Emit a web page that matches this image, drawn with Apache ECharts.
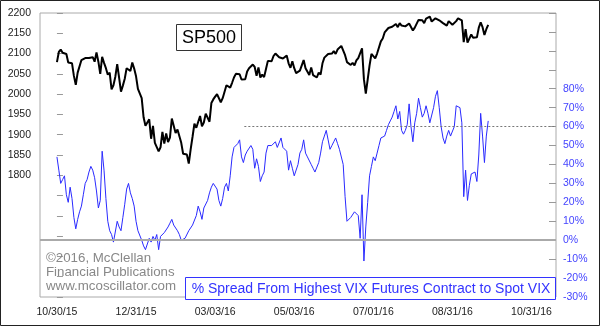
<!DOCTYPE html>
<html>
<head>
<meta charset="utf-8">
<script src="https://cdn.jsdelivr.net/npm/echarts@6/dist/echarts.min.js"></script>
<style>
html,body{margin:0;padding:0;background:#fff;}
#chart{width:600px;height:326px;}
</style>
</head>
<body>
<div id="chart"></div>
<script>
// x tick labels (trading-day index of each label)
const xLabels = ['10/30/15','12/31/15','03/03/16','05/03/16','07/01/16','08/31/16','10/31/16'];
const xLabelIdx = [0, 42, 84, 126, 168, 210, 252];

// S&P 500 daily closes (left axis), trading days from 10/30/15
const spx = [
2079,2104,2110,2102,2100,2099,2078,2081,2076,2045,
2023,2053,2051,2084,2082,2089,2087,2089,2089,2091,
2080,2103,2080,2050,2092,2077,2064,2048,2053,2012,
2022,2043,2074,2041,2006,2021,2038,2064,2061,2057,
2078,2063,2044,2013,2016,1990,1943,1922,1924,1938,
1890,1922,1880,1881,1859,1869,1907,1878,1903,1882,
1893,1940,1940,1904,1913,1915,1880,1853,1852,1851,
1829,1864,1895,1927,1917,1918,1946,1921,1930,1952,
1948,1932,1978,1987,1994,2000,2002,1980,1990,1989,
2022,2020,2016,2028,2041,2050,2051,2049,2036,2036,
2037,2056,2064,2060,2073,2067,2045,2066,2041,2048,
2042,2062,2082,2082,2081,2094,2100,2102,2091,2092,
2088,2091,2095,2076,2065,2081,2064,2052,2051,2058,
2059,2084,2064,2065,2047,2066,2047,2048,2041,2053,
2048,2076,2090,2090,2099,2097,2100,2106,2099,2110,
2112,2119,2115,2096,2079,2075,2072,2077,2071,2083,
2089,2086,2113,2037,2001,2036,2071,2099,2103,2088,
2100,2097,2130,2137,2152,2152,2163,2162,2166,2163,
2173,2165,2175,2169,2170,2167,2170,2174,2171,2157,
2164,2164,2183,2181,2182,2175,2186,2184,2191,2179,
2182,2187,2184,2182,2186,2175,2173,2169,2180,2176,
2171,2171,2180,2187,2186,2182,2128,2160,2127,2126,
2147,2139,2139,2140,2164,2177,2165,2146,2160,2171
];

// % spread from highest VIX futures contract to spot VIX (right axis)
const spread = [
44,37,30,32,34,24,20,28,22,12,
6,11,15,18,24,30,32,36,39,37,
33,26,17,21,47,37,22,10,5,3,
-1,-1,10,7,5,12,19,27,30,25,
22,18,10,5,4,0,-3,-5,-2,1,
-1,2,0,3,-5,2,1,4,3,7,
9,11,8,7,5,3,0,-1,1,2,
5,4,8,9,13,18,15,11,17,16,
21,25,28,30,29,27,21,18,22,28,
30,26,34,44,49,48,51,53,44,41,
45,47,46,50,48,38,43,39,31,34,
36,46,50,49,50,50,52,49,50,54,
49,48,47,37,42,38,34,34,40,46,
48,53,46,44,43,40,38,36,36,41,
46,52,55,58,53,48,50,52,54,51,
48,47,40,23,10,10,12,13,15,16,
13,1,24,-11,7,20,34,39,44,42,
46,50,54,54,55,58,61,63,65,68,
71,64,68,58,56,58,61,72,60,52,
62,67,75,70,65,67,71,67,62,63,
70,76,79,70,60,54,51,55,58,55,
54,60,71,70,70,62,23,37,21,29,
35,34,36,31,45,67,55,41,55,63
];

const refLevel = 60;      // dotted reference level (%)
const refStartIdx = 99.5; // where the dotted line starts
const zeroLevel = 0;

const FONT = 'Liberation Sans, Arial, sans-serif';
const chart = echarts.init(document.getElementById('chart'), null, {renderer: 'canvas'});

chart.setOption({
  animation: false,
  backgroundColor: '#fff',
  grid: {left: 40, right: 44, top: 13, bottom: 29, show: true, borderColor: '#aaa', borderWidth: 1, backgroundColor: 'transparent'},
  xAxis: {
    type: 'value', min: -9, max: 265,
    axisLine: {show: false}, axisTick: {show: false}, splitLine: {show: false},
    axisLabel: {
      customValues: xLabelIdx,
      formatter: v => { const k = xLabelIdx.indexOf(Math.round(v)); return k >= 0 ? xLabels[k] : ''; },
      color: '#222', fontSize: 10.5, fontFamily: FONT, margin: 10
    }
  },
  yAxis: [
    {
      type: 'value', position: 'left', min: 1500, max: 2200, interval: 50,
      axisLine: {show: false}, splitLine: {show: false},
      axisTick: {show: true, inside: true, length: 6, lineStyle: {color: '#999'}},
      axisLabel: {formatter: v => v >= 1800 ? String(v) : '', color: '#222', fontSize: 10.5, fontFamily: FONT, margin: 9}
    },
    {
      type: 'value', position: 'right', min: -30, max: 120, interval: 10,
      axisLine: {show: false}, splitLine: {show: false},
      axisTick: {show: true, inside: true, length: 7, lineStyle: {color: '#999'}},
      axisLabel: {formatter: v => v <= 80 ? v + '%' : '', color: '#4444ff', fontSize: 10.5, fontFamily: FONT, margin: 7}
    }
  ],
  series: [
    {
      type: 'line', yAxisIndex: 1, showSymbol: false, symbol: 'none',
      data: spread.map((v, i) => [i, v]),
      lineStyle: {color: '#2a2aff', width: 1},
      z: 3,
      markLine: {
        silent: true, symbol: 'none', label: {show: false}, animation: false,
        data: [
          {yAxis: zeroLevel, lineStyle: {color: '#aaa', width: 2, type: 'solid'}},
          [{coord: [refStartIdx, refLevel]}, {coord: [265, refLevel], lineStyle: {color: '#777', width: 1, type: [2, 2]}}]
        ]
      }
    },
    {
      type: 'line', yAxisIndex: 0, showSymbol: false, symbol: 'none',
      data: spx.map((v, i) => [i, v]),
      lineStyle: {color: '#000', width: 2},
      z: 4
    }
  ],
  graphic: [
    {type: 'rect', z: 100, shape: {x: 0.5, y: 0.5, width: 599, height: 325}, style: {fill: 'none', stroke: '#222', lineWidth: 1}},
    {type: 'rect', z: 100, shape: {x: 176.5, y: 24.5, width: 65, height: 26}, style: {fill: '#fff', stroke: '#333', lineWidth: 1}},
    {type: 'text', z: 101, style: {x: 209, y: 38, text: 'SP500', fill: '#000', font: '18px ' + FONT, textAlign: 'center', textVerticalAlign: 'middle'}},
    {type: 'text', z: 101, style: {x: 46, y: 251, text: '©2016, McClellan\nFinancial Publications\nwww.mcoscillator.com', fill: '#888', font: '13.3px ' + FONT, lineHeight: 14}},
    {type: 'rect', z: 100, shape: {x: 185.5, y: 277.5, width: 370, height: 22}, style: {fill: '#fff', stroke: '#3333ff', lineWidth: 1}},
    {type: 'text', z: 101, style: {x: 371, y: 289, text: '% Spread From Highest VIX Futures Contract to Spot VIX', fill: '#3333ff', font: '14px ' + FONT, textAlign: 'center', textVerticalAlign: 'middle'}}
  ]
});
</script>
</body>
</html>
